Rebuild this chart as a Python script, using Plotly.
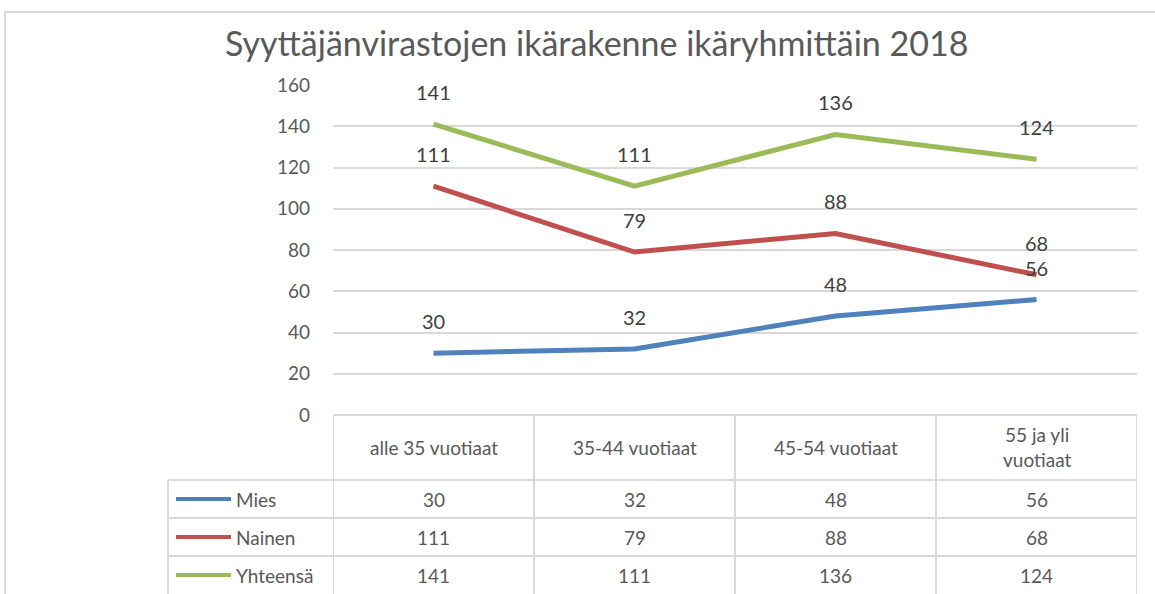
import plotly.graph_objects as go

categories = ["alle 35 vuotiaat", "35-44 vuotiaat", "45-54 vuotiaat", "55 ja yli<br>vuotiaat"]
series_names = ["Mies", "Nainen", "Yhteensä"]
mies = [30, 32, 48, 56]
nainen = [111, 79, 88, 68]
yhteensa = [141, 111, 136, 124]
y_ticks = [0, 20, 40, 60, 80, 100, 120, 140, 160]
title = "Syyttäjänvirastojen ikärakenne ikäryhmittäin 2018"

series = [mies, nainen, yhteensa]
colors = ["#4f81bd", "#c0504d", "#9bbb59"]

W, H = 1155, 594
FONT = "Lato, 'Open Sans', sans-serif"
GRID = "#d9d9d9"
TXT = "#595959"

def py(p):  # pixel y -> paper
    return 1 - p / H

def px(p):
    return p / W

fig = go.Figure()
xs = list(range(len(categories)))
for name, vals, c in zip(series_names, series, colors):
    fig.add_trace(go.Scatter(x=xs, y=vals, mode="lines", name=name,
                             line=dict(color=c, width=5), showlegend=False))
    for xi, v in zip(xs, vals):
        fig.add_annotation(x=xi, y=v, xref="x", yref="y", text=str(v),
                           showarrow=False, yshift=32, yanchor="middle",
                           font=dict(size=20, color="#404040", family=FONT))

shapes = []
# chart frame
shapes.append(dict(type="rect", xref="paper", yref="paper", x0=px(5), x1=px(1165),
                   y0=py(610), y1=py(12), line=dict(color=GRID, width=2), layer="below"))
# table lines
row_y = [415, 480, 518, 556, 594]
shapes.append(dict(type="line", xref="x", yref="paper", x0=-0.5, x1=3.5,
                   y0=py(row_y[0]), y1=py(row_y[0]), line=dict(color=GRID, width=2)))
for yy in row_y[1:-1]:
    shapes.append(dict(type="line", xref="paper", yref="paper", x0=px(168), x1=px(1137),
                       y0=py(yy), y1=py(yy), line=dict(color=GRID, width=2)))
for k in range(len(categories) + 1):
    shapes.append(dict(type="line", xref="x", yref="paper", x0=k - 0.5, x1=k - 0.5,
                       y0=py(415), y1=py(600), line=dict(color=GRID, width=2)))
shapes.append(dict(type="line", xref="paper", yref="paper", x0=px(168), x1=px(168),
                   y0=py(480), y1=py(600), line=dict(color=GRID, width=2)))

# header cells
for xi, cat in zip(xs, categories):
    fig.add_annotation(x=xi, y=py(447), xref="x", yref="paper", text=cat, showarrow=False,
                       yanchor="middle",
                       font=dict(size=19, color=TXT, family=FONT), align="center")

# series rows
for r, (name, vals, c) in enumerate(zip(series_names, series, colors)):
    yc = (row_y[r + 1] + row_y[r + 2]) / 2
    shapes.append(dict(type="line", xref="paper", yref="paper", x0=px(176), x1=px(231),
                       y0=py(yc), y1=py(yc), line=dict(color=c, width=4)))
    fig.add_annotation(x=px(234), y=py(yc), xref="paper", yref="paper", text=name,
                       showarrow=False, xanchor="left", yanchor="middle",
                       font=dict(size=19, color=TXT, family=FONT))
    for xi, v in zip(xs, vals):
        fig.add_annotation(x=xi, y=py(yc), xref="x", yref="paper", text=str(v),
                           showarrow=False, yanchor="middle",
                           font=dict(size=19, color=TXT, family=FONT))

fig.add_annotation(x=px(597), y=py(42), xref="paper", yref="paper", text=title,
                   showarrow=False, yanchor="middle", xanchor="center",
                   font=dict(size=34, color=TXT, family=FONT))

fig.update_layout(
    width=W, height=H,
    margin=dict(l=0, r=0, t=0, b=0, autoexpand=False),
    paper_bgcolor="white", plot_bgcolor="white",
    shapes=shapes,
    xaxis=dict(domain=[px(333), px(1137)], range=[-0.5, 3.5], showticklabels=False,
               showgrid=False, zeroline=False, showline=False, fixedrange=True,
               automargin=False),
    yaxis=dict(domain=[py(415), py(85)], range=[0, 160], tickvals=y_ticks,
               showgrid=True, gridcolor=GRID, gridwidth=2, zeroline=False,
               tickfont=dict(size=19, color=TXT, family=FONT),
               ticklabelstandoff=22, showline=False, automargin=False),
)

fig.write_html("out.html", config={"displayModeBar": False},
               post_script="document.body.style.margin='0';")
